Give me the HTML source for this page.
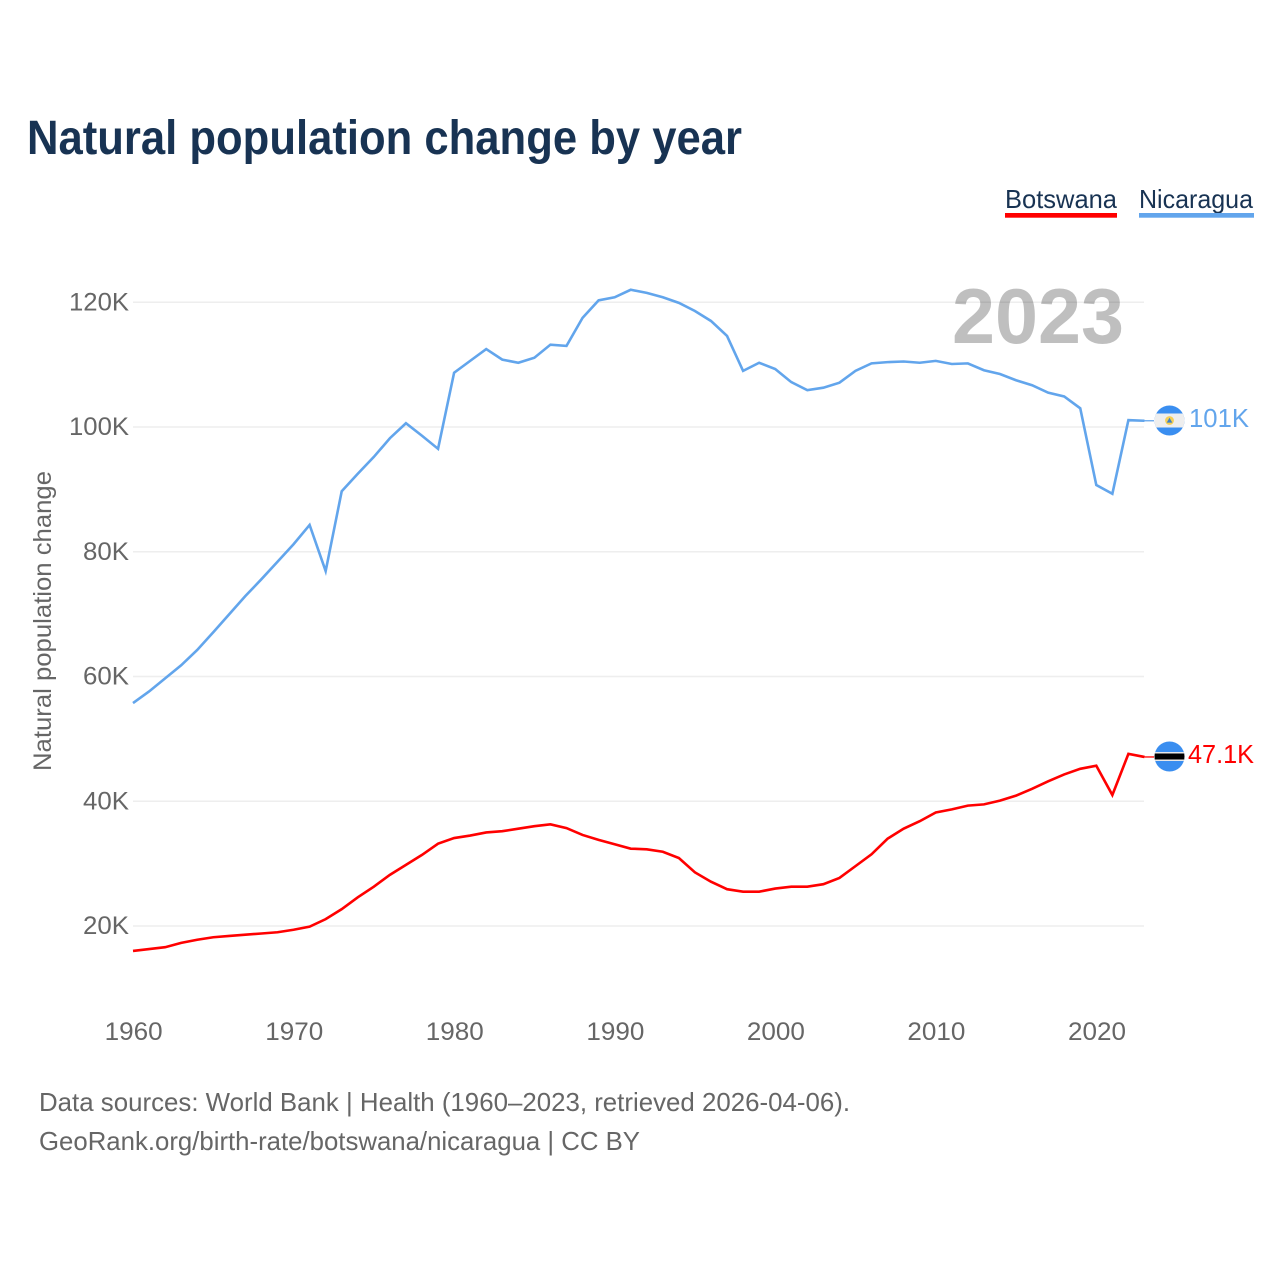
<!DOCTYPE html>
<html lang="en">
<head>
<meta charset="utf-8">
<title>Natural population change by year</title>
<style>
html,body{margin:0;padding:0;background:#fff;}
svg{display:block;font-family:"Liberation Sans",sans-serif;}
</style>
</head>
<body>
<svg id="chart" xmlns="http://www.w3.org/2000/svg" width="1280" height="1280" viewBox="0 0 1280 1280">
  <defs>
    <clipPath id="clip-nic"><circle id="clip-nic-circle" cx="1169.5" cy="420.5" r="15"></circle></clipPath>
    <clipPath id="clip-bwa"><circle id="clip-bwa-circle" cx="1169.5" cy="756.5" r="15"></circle></clipPath>
  </defs>
  <rect x="0" y="0" width="1280" height="1280" fill="#ffffff"></rect>
  <text x="27" y="154" font-size="48" font-weight="700" fill="#183353" textLength="715" lengthAdjust="spacingAndGlyphs">Natural population change by year</text>

  <g>
    <g>
      <text x="1005" y="208" font-size="26" fill="#183353" textLength="112" lengthAdjust="spacingAndGlyphs">Botswana</text>
      <rect x="1005" y="213" width="112" height="4.7" fill="#ff0000"></rect>
    </g>
    <g>
      <text x="1139" y="208" font-size="26" fill="#183353" textLength="114" lengthAdjust="spacingAndGlyphs">Nicaragua</text>
      <rect x="1139" y="213" width="115" height="4.7" fill="#62a5ec"></rect>
    </g>
  </g>

  <text transform="translate(51,771) rotate(-90)" x="0" y="0" font-size="25" fill="#666666" textLength="300" lengthAdjust="spacingAndGlyphs">Natural population change</text>

  <g id="grid"></g>
  <g id="y-ticks"></g>
  <g id="x-ticks"></g>

  <text x="952" y="343" font-size="78" font-weight="700" fill="#000000" fill-opacity="0.25" textLength="172" lengthAdjust="spacingAndGlyphs">2023</text>

  <g id="series"></g>

  <g id="flag-nic" clip-path="url(#clip-nic)">
    <rect x="1150" y="400" width="40" height="42" fill="#3a8ef0"></rect>
    <rect x="1150" y="413.5" width="40" height="14" fill="#eeeeee"></rect>
    <circle cx="1169.5" cy="420.5" r="4.4" fill="#f5cf55"></circle>
    <path d="M1169.5 417.7 L1172.3 422.6 L1166.7 422.6 Z" fill="#3f7fc4"></path>
  </g>
  <g id="flag-bwa" clip-path="url(#clip-bwa)">
    <rect x="1150" y="736" width="40" height="42" fill="#3a8ef0"></rect>
    <rect x="1150" y="752" width="40" height="9" fill="#e8e8e8"></rect>
    <rect x="1150" y="753.5" width="40" height="6" fill="#000000"></rect>
  </g>

  <text id="end-label-nic" x="1189" y="427" font-size="26" fill="#62a5ec" textLength="60" lengthAdjust="spacingAndGlyphs"></text>
  <text id="end-label-bwa" x="1188" y="763" font-size="26" fill="#ff0000" textLength="66" lengthAdjust="spacingAndGlyphs"></text>

  <text x="39" y="1111" font-size="26" fill="#666666" textLength="811" lengthAdjust="spacingAndGlyphs">Data sources: World Bank | Health (1960–2023, retrieved 2026-04-06).</text>
  <text x="39" y="1150" font-size="26" fill="#666666" textLength="601" lengthAdjust="spacingAndGlyphs">GeoRank.org/birth-rate/botswana/nicaragua | CC BY</text>
</svg>
<script>
var firstYear = 1960;
var yTickValues = [20, 40, 60, 80, 100, 120];
var yTickLabels = ["20K", "40K", "60K", "80K", "100K", "120K"];
var xTickYears = [1960, 1970, 1980, 1990, 2000, 2010, 2020];
var nicaraguaValues = [55.75,57.6,59.7,61.8,64.25,67.1,70.0,72.9,75.6,78.4,81.2,84.3,76.9,89.7,92.5,95.2,98.2,100.6,98.6,96.5,108.7,110.6,112.5,110.8,110.3,111.1,113.2,113.0,117.5,120.3,120.8,122.0,121.5,120.8,119.9,118.6,117.0,114.6,109.0,110.3,109.3,107.2,105.9,106.3,107.1,109.0,110.2,110.4,110.5,110.3,110.6,110.1,110.2,109.1,108.5,107.5,106.7,105.5,104.9,103.0,90.7,89.3,101.1,101.0];
var botswanaValues = [16.0,16.3,16.6,17.3,17.8,18.2,18.4,18.6,18.8,19.0,19.4,19.9,21.1,22.7,24.6,26.3,28.2,29.8,31.4,33.2,34.1,34.5,35.0,35.2,35.6,36.0,36.3,35.7,34.6,33.8,33.1,32.4,32.3,31.9,30.9,28.6,27.1,25.9,25.5,25.5,26.0,26.3,26.3,26.7,27.7,29.6,31.5,34.0,35.6,36.8,38.2,38.7,39.3,39.5,40.1,40.9,42.0,43.2,44.3,45.2,45.7,41.0,47.6,47.1];
var nicaraguaEndLabel = "101K";
var botswanaEndLabel = "47.1K";

var NS = "http://www.w3.org/2000/svg";
function xScale(year) { return 133 + (year - 1960) * 16.055; }
function yScale(v) { return 926 - (v - 20) * 6.2375; }
function make(tag, parent, attrs) {
  var el = document.createElementNS(NS, tag);
  for (var k in attrs) { el.setAttribute(k, attrs[k]); }
  parent.appendChild(el);
  return el;
}
var grid = document.getElementById("grid");
var yTicks = document.getElementById("y-ticks");
var xTicks = document.getElementById("x-ticks");
var series = document.getElementById("series");

yTickValues.forEach(function (v, i) {
  var line = make("line", grid, {x1: 133, x2: 1144, y1: yScale(v), y2: yScale(v), stroke: "#eeeeee", "stroke-width": 1.6});
  
  
  var label = make("text", yTicks, {x: 129, y: yScale(v) + 8, "text-anchor": "end", "font-size": 25, fill: "#666666", textLength: yTickLabels[i].length === 4 ? 60 : 46, lengthAdjust: "spacingAndGlyphs"});
  
  
  label.textContent = yTickLabels[i];
});

xTickYears.forEach(function (year) {
  var label = make("text", xTicks, {x: xScale(year) + 0.7, y: 1040, "text-anchor": "middle", "font-size": 25, fill: "#666666", textLength: 58, lengthAdjust: "spacingAndGlyphs"});
  
  
  label.textContent = String(year);
});

function pathFor(values) {
  return values.map(function (v, i) {
    return (i === 0 ? "M" : "L") + xScale(firstYear + i).toFixed(2) + " " + yScale(v).toFixed(2);
  }).join(" ");
}
function lastPoint(values) {
  return {x: xScale(firstYear + values.length - 1), y: yScale(values[values.length - 1])};
}

var botswanaLine = make("path", series, {d: pathFor(botswanaValues), fill: "none", stroke: "#ff0000", "stroke-width": 2.6, "stroke-linejoin": "miter"});


var nicaraguaLine = make("path", series, {d: pathFor(nicaraguaValues), fill: "none", stroke: "#62a5ec", "stroke-width": 2.6, "stroke-linejoin": "miter"});



var nicEnd = lastPoint(nicaraguaValues);
var bwaEnd = lastPoint(botswanaValues);
var nicLeader = make("line", series, {x1: nicEnd.x, y1: nicEnd.y, x2: 1154, y2: nicEnd.y, stroke: "#62a5ec", "stroke-width": 1.3});


var bwaLeader = make("line", series, {x1: bwaEnd.x, y1: bwaEnd.y, x2: 1154, y2: bwaEnd.y, stroke: "#ff0000", "stroke-width": 1.3});



document.getElementById("end-label-nic").textContent = nicaraguaEndLabel;
document.getElementById("end-label-bwa").textContent = botswanaEndLabel;
</script>
</body>
</html>
